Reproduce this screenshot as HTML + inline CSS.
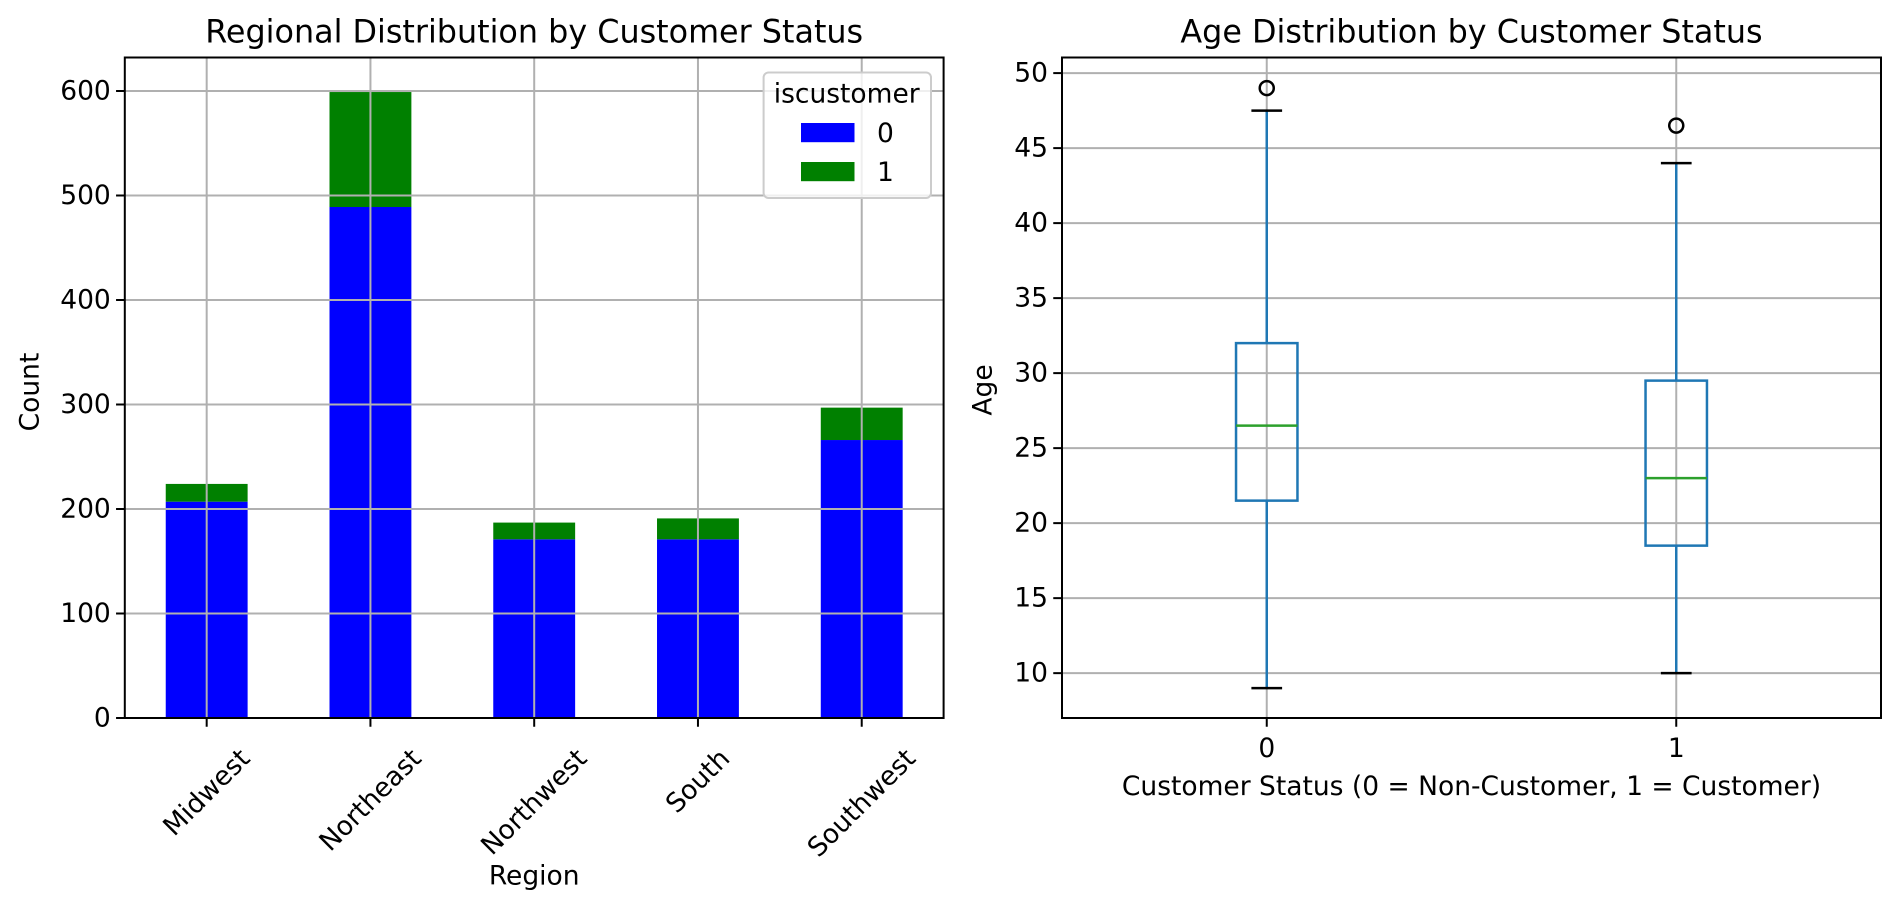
<!DOCTYPE html>
<html><head><meta charset="utf-8"><style>
html,body{margin:0;padding:0;background:#fff;}
svg{display:block;font-family:"DejaVu Sans","Liberation Sans",sans-serif;}
</style></head><body>
<svg id="fig" width="1900" height="910" viewBox="0 0 1900 910" xmlns="http://www.w3.org/2000/svg">
<rect width="1900" height="910" fill="#fff"/>
<g id="left"></g>
<g id="right"></g>
</svg>
<script>
const regions = ["Midwest","Northeast","Northwest","South","Southwest"];
const nonCustomer = [207,489,171,171,266];
const customer = [17,110,16,20,31];
const countTicks = [0,100,200,300,400,500,600];
const statusLabels = ["0","1"];
const whiskLow = [9,10];
const q1 = [21.5,18.5];
const medians = [26.5,23];
const q3 = [32,29.5];
const whiskHigh = [47.5,44];
const outliers = [[49],[46.5]];
const ageTicks = [10,15,20,25,30,35,40,45,50];

const NS="http://www.w3.org/2000/svg";
function mk(parent,tag,attrs,text){const e=document.createElementNS(NS,tag);for(const k in attrs)e.setAttribute(k,attrs[k]);if(text!==undefined)e.textContent=text;parent.appendChild(e);return e;}
const FS=26.5, TFS=31.8;

// ---------- left chart ----------
const L=document.getElementById('left');
const lx0=124.8,lx1=943.6,ly0=57.5,ly1=718;
const lyMin=0,lyMax=(718-57.5)/104.5*100;
const ly=v=>ly1-(v-lyMin)/(lyMax-lyMin)*(ly1-ly0);
const band=(lx1-lx0)/regions.length;
const lxc=i=>lx0+band*(i+0.5);
const bw=band*0.5;
regions.forEach((r,i)=>{
  const b0=mk(L,'rect',{x:lxc(i)-bw/2,y:ly(nonCustomer[i]),width:bw,height:ly(0)-ly(nonCustomer[i]),fill:'#0000ff'});
  
  
  const t=nonCustomer[i]+customer[i];
  const b1=mk(L,'rect',{x:lxc(i)-bw/2,y:ly(t),width:bw,height:ly(nonCustomer[i])-ly(t),fill:'#008000'});
  
  
});
countTicks.forEach(v=>{
  const g=mk(L,'line',{x1:lx0,x2:lx1,y1:ly(v),y2:ly(v),stroke:'#b0b0b0','stroke-width':2});
  
  
  mk(L,'line',{x1:lx0-8.75,x2:lx0,y1:ly(v),y2:ly(v),stroke:'#000','stroke-width':2});
  const t=mk(L,'text',{x:lx0-14,y:ly(v),'text-anchor':'end','dominant-baseline':'central','font-size':FS},String(v));
  
  
});
regions.forEach((r,i)=>{
  const g=mk(L,'line',{x1:lxc(i),x2:lxc(i),y1:ly0,y2:ly1,stroke:'#b0b0b0','stroke-width':2});
  
  
  mk(L,'line',{x1:lxc(i),x2:lxc(i),y1:ly1,y2:ly1+8.75,stroke:'#000','stroke-width':2});
  const t=mk(L,'text',{x:0,y:0,'text-anchor':'middle','dominant-baseline':'central','font-size':FS},r);
  
  
  const len=t.getComputedTextLength();
  const h=FS*1.17;
  const cy=743+(len+h)*0.7071/2;
  t.setAttribute('transform','translate('+lxc(i)+','+cy+') rotate(-45)');
});
mk(L,'rect',{x:lx0,y:ly0,width:lx1-lx0,height:ly1-ly0,fill:'none',stroke:'#000','stroke-width':2});
let e;
e=mk(L,'text',{x:(lx0+lx1)/2,y:32,'text-anchor':'middle','dominant-baseline':'central','font-size':TFS},'Regional Distribution by Customer Status');

e=mk(L,'text',{x:(lx0+lx1)/2,y:876,'text-anchor':'middle','dominant-baseline':'central','font-size':FS},'Region');

e=mk(L,'text',{x:0,y:0,'text-anchor':'middle','dominant-baseline':'central','font-size':FS,transform:'translate(30,392) rotate(-90)'},'Count');

// legend
const lg=mk(L,'g',{});

mk(lg,'rect',{x:763.6,y:72.5,width:167.4,height:125.5,rx:5,fill:'#fff','fill-opacity':0.8,stroke:'#cccccc','stroke-width':2});
mk(lg,'text',{x:846.7,y:94,'text-anchor':'middle','dominant-baseline':'central','font-size':FS},'iscustomer');
e=mk(lg,'rect',{x:801,y:123,width:53.5,height:19.2,fill:'#0000ff'});

mk(lg,'text',{x:877,y:133.5,'dominant-baseline':'central','font-size':FS},'0');
e=mk(lg,'rect',{x:801,y:162,width:53.5,height:19.2,fill:'#008000'});

mk(lg,'text',{x:877,y:172.4,'dominant-baseline':'central','font-size':FS},'1');

// ---------- right chart ----------
const R=document.getElementById('right');
const rx0=1062,rx1=1881,ry0=57.5,ry1=718;
const rMin=7.01,rMax=51.04;
const ry=v=>ry1-(v-rMin)/(rMax-rMin)*(ry1-ry0);
const rx=p=>rx0+(p-0.5)/2*(rx1-rx0);
ageTicks.forEach(v=>{
  const g=mk(R,'line',{x1:rx0,x2:rx1,y1:ry(v),y2:ry(v),stroke:'#b0b0b0','stroke-width':2});
  
  mk(R,'line',{x1:rx0-8.75,x2:rx0,y1:ry(v),y2:ry(v),stroke:'#000','stroke-width':2});
  const t=mk(R,'text',{x:rx0-14,y:ry(v),'text-anchor':'end','dominant-baseline':'central','font-size':FS},String(v));
  
});
statusLabels.forEach((s,i)=>{
  const x=rx(i+1);
  const g=mk(R,'line',{x1:x,x2:x,y1:ry0,y2:ry1,stroke:'#b0b0b0','stroke-width':2});
  
  mk(R,'line',{x1:x,x2:x,y1:ry1,y2:ry1+8.75,stroke:'#000','stroke-width':2});
  const t=mk(R,'text',{x:x,y:748.7,'text-anchor':'middle','dominant-baseline':'central','font-size':FS},s);
  
});
const bwR=(rx1-rx0)/2*0.15;
statusLabels.forEach((s,i)=>{
  const x=rx(i+1);
  const g=mk(R,'g',{});
  
  
  mk(g,'line',{x1:x,x2:x,y1:ry(whiskLow[i]),y2:ry(q1[i]),stroke:'#1f77b4','stroke-width':2.5});
  mk(g,'line',{x1:x,x2:x,y1:ry(q3[i]),y2:ry(whiskHigh[i]),stroke:'#1f77b4','stroke-width':2.5});
  mk(g,'line',{x1:x-bwR/4,x2:x+bwR/4,y1:ry(whiskLow[i]),y2:ry(whiskLow[i]),stroke:'#000','stroke-width':2.5});
  mk(g,'line',{x1:x-bwR/4,x2:x+bwR/4,y1:ry(whiskHigh[i]),y2:ry(whiskHigh[i]),stroke:'#000','stroke-width':2.5});
  mk(g,'rect',{x:x-bwR/2,y:ry(q3[i]),width:bwR,height:ry(q1[i])-ry(q3[i]),fill:'none',stroke:'#1f77b4','stroke-width':2.5});
  mk(g,'line',{x1:x-bwR/2,x2:x+bwR/2,y1:ry(medians[i]),y2:ry(medians[i]),stroke:'#2ca02c','stroke-width':2.5});
  outliers[i].forEach(o=>{
    const c=mk(g,'circle',{cx:x,cy:ry(o),r:7,fill:'none',stroke:'#000','stroke-width':2.5});
    
    
  });
});
mk(R,'rect',{x:rx0,y:ry0,width:rx1-rx0,height:ry1-ry0,fill:'none',stroke:'#000','stroke-width':2});
e=mk(R,'text',{x:(rx0+rx1)/2,y:32,'text-anchor':'middle','dominant-baseline':'central','font-size':TFS},'Age Distribution by Customer Status');

e=mk(R,'text',{x:(rx0+rx1)/2,y:786.4,'text-anchor':'middle','dominant-baseline':'central','font-size':FS},'Customer Status (0 = Non-Customer, 1 = Customer)');

e=mk(R,'text',{x:0,y:0,'text-anchor':'middle','dominant-baseline':'central','font-size':FS,transform:'translate(983,390) rotate(-90)'},'Age');

</script>
</body></html>
